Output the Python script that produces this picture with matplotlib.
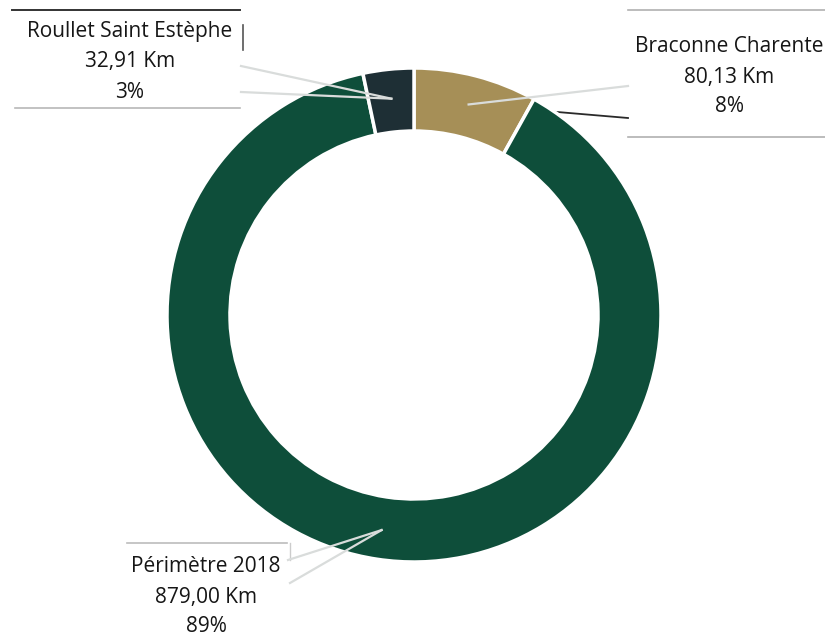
"""
Donut chart: linear km per perimeter
"""
import numpy as np
import matplotlib
matplotlib.use("Agg")
import matplotlib.pyplot as plt

# data (clockwise from 12 o'clock)
names = ["Braconne Charente", "Périmètre 2018", "Roullet Saint Estèphe"]
km = [80.13, 879.00, 32.91]
km_labels = ["80,13 Km", "879,00 Km", "32,91 Km"]
pct_labels = ["8%", "89%", "3%"]
colors = ["#a68f57", "#0e4e3a", "#1e2f35"]

plt.rcParams['font.family'] = ['Open Sans', 'DejaVu Sans']

W, H = 825, 640
fig = plt.figure(figsize=(W / 100, H / 100), dpi=100)
ax = fig.add_axes([0, 0, 1, 1])

cx, cy = 414, H - 315
R_out, ring = 247, 63

wedges, _ = ax.pie(km, colors=colors, startangle=90, counterclock=False,
                   center=(cx, cy), radius=R_out, frame=True,
                   wedgeprops=dict(width=ring, edgecolor='white', linewidth=2.5))
ax.set_xlim(0, W)
ax.set_ylim(0, H)
ax.set_aspect('equal')
ax.axis('off')

# label boxes: text centre x, first line y (image px), box end for leader lines
label_pos = {
    "Braconne Charente": (729, 47, [(628, 86), (628, 118)]),
    "Périmètre 2018": (206, 567, [(288, 560), (290, 583)]),
    "Roullet Saint Estèphe": (130, 32, [(241, 66), (241, 92)]),
}
r_mid = R_out - ring / 2
line_gap = 30

for w, name, kml, pct in zip(wedges, names, km_labels, pct_labels):
    tx, ty, ends = label_pos[name]
    for i, s in enumerate([name, kml, pct]):
        ax.text(tx, H - (ty + i * line_gap), s, ha='center', va='center',
                fontsize=15, color='#161616', zorder=5)
    mid = np.deg2rad((w.theta1 + w.theta2) / 2)
    ax_x = cx + (r_mid + 2) * np.cos(mid)
    ax_y = cy + (r_mid + 2) * np.sin(mid)
    for j, (ex, ey) in enumerate(ends):
        if name == "Braconne Charente" and j == 1:
            # lower leader passes under the ring, looks dark on the scan
            ax.plot([ex, ax_x], [H - ey, ax_y], color='#2a2a2a', lw=1.3, zorder=0)
        else:
            ax.plot([ex, ax_x], [H - ey, ax_y], color='#d9dcdb', lw=1.6, zorder=4)

# box edges of the callouts
ax.plot([12, 240], [H - 10, H - 10], color='#333333', lw=1.4)
ax.plot([15, 240], [H - 108, H - 108], color='#b8b8b8', lw=1.2)
ax.plot([243, 243], [H - 25, H - 50], color='#555555', lw=1.2)
ax.plot([628, 825], [H - 10, H - 10], color='#b0b0b0', lw=1.2)
ax.plot([628, 825], [H - 137, H - 137], color='#b0b0b0', lw=1.2)
ax.plot([127, 287], [H - 543, H - 543], color='#bcbcbc', lw=1.2)
ax.plot([290, 290], [H - 543, H - 560], color='#cccccc', lw=1.0)

fig.savefig("out.png", dpi=100, facecolor='white')
